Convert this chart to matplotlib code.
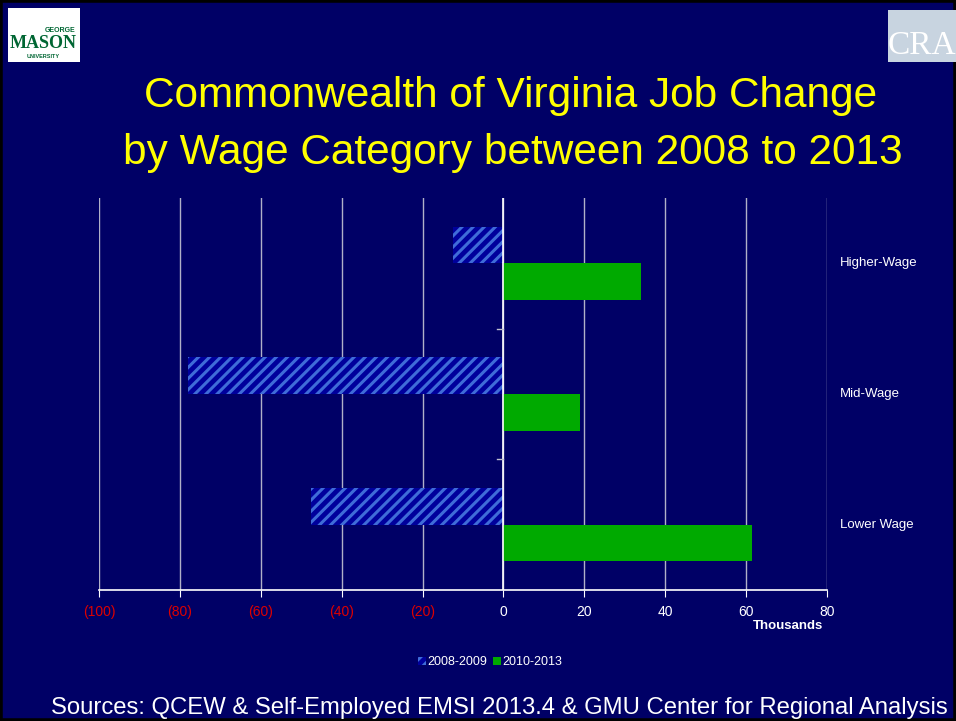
import matplotlib.pyplot as plt
from matplotlib.patches import Patch, Rectangle

# data (thousands of jobs)
categories = ['Lower Wage', 'Mid-Wage', 'Higher-Wage']
change_2008_2009 = [-47.5, -78.0, -12.5]
change_2010_2013 = [61.5, 19.0, 34.0]
xticks = [-100, -80, -60, -40, -20, 0, 20, 40, 60, 80]

bg = '#000066'
plt.rcParams['font.family'] = ['Liberation Sans', 'DejaVu Sans']
plt.rcParams['hatch.linewidth'] = 2.2

fig = plt.figure(figsize=(9.56, 7.21), dpi=100, facecolor=bg)

# thin black slide frame
fig.patches.append(Rectangle((0, 0), 1, 1, transform=fig.transFigure,
                             fill=False, edgecolor='black', linewidth=4))

ax = fig.add_axes([99 / 956, 131 / 721, 728 / 956, 392 / 721])
ax.set_facecolor(bg)

y = list(range(len(categories)))
h = 0.28
ax.barh([v + h / 2 for v in y], change_2008_2009, height=h, color='#00009c',
        edgecolor='#3f6cd8', linewidth=0, hatch='///', label='2008-2009')
ax.barh([v - h / 2 for v in y], change_2010_2013, height=h, color='#00aa00',
        linewidth=0, label='2010-2013')

ax.set_xlim(-100, 80)
ax.set_ylim(-0.5, 2.5)
ax.set_xticks(xticks)
labels = [f'({abs(t)})' if t < 0 else str(t) for t in xticks]
ax.tick_params(axis='x', colors='white', length=5, pad=6)
ax.set_xticklabels(labels, fontsize=10)
for lab, t in zip(ax.get_xticklabels(), xticks):
    lab.set_color('#dd0000' if t < 0 else 'white')
ax.grid(axis='x', color='#b0b0c8', linewidth=1)
ax.set_axisbelow(True)

for s in ['top', 'right', 'left']:
    ax.spines[s].set_visible(False)
ax.spines['bottom'].set_color('white')
ax.spines['bottom'].set_linewidth(1.2)

# category axis at zero
ax.axvline(0, color='white', linewidth=1.2, zorder=3)
ax.set_yticks([])
for b in [0.5, 1.5]:
    ax.plot([-1.5, 0], [b, b], color='#c0c0d0', linewidth=1, zorder=3)
for v, name in zip(y, categories):
    ax.text(1.018, (v + 0.5) / 3, name, transform=ax.transAxes, color='white',
            fontsize=9.5, va='center', ha='left')

ax.text(0.947, -0.092, 'Thousands', transform=ax.transAxes, color='white',
        fontsize=9.5, fontweight='bold', ha='center', va='center')

fig.legend(handles=[
    Patch(facecolor='#00009c', edgecolor='#3f6cd8', linewidth=0, hatch='///', label='2008-2009'),
    Patch(facecolor='#00aa00', label='2010-2013')],
    loc='center', bbox_to_anchor=(490 / 956, 1 - 662 / 721), ncol=2, frameon=False,
    fontsize=9, labelcolor='white', handlelength=0.6, handleheight=0.6,
    handletextpad=0.1, columnspacing=0.5)

fig.text(511 / 956, 1 - 96 / 721, 'Commonwealth of Virginia Job Change',
         color='#ffff00', fontsize=30.5, ha='center', va='center')
fig.text(513 / 956, 1 - 153 / 721, 'by Wage Category between 2008 to 2013',
         color='#ffff00', fontsize=30.5, ha='center', va='center')
fig.text(499 / 956, 1 - 708 / 721,
         'Sources: QCEW & Self-Employed EMSI 2013.4 & GMU Center for Regional Analysis',
         color='white', fontsize=17.2, ha='center', va='center')

# logos (approximate)
fig.patches.append(Rectangle((8 / 956, 1 - 62 / 721), 72 / 956, 54 / 721,
                             transform=fig.transFigure, facecolor='white', edgecolor='none'))
fig.text(60 / 956, 1 - 30 / 721, 'GEORGE', color='#006633', fontsize=5,
         fontweight='bold', ha='center', va='center')
fig.text(43 / 956, 1 - 43 / 721, 'MASON', color='#006633', fontsize=13,
         fontweight='bold', ha='center', va='center', family='Liberation Serif')
fig.text(43 / 956, 1 - 56 / 721, 'UNIVERSITY', color='#006633', fontsize=4,
         fontweight='bold', ha='center', va='center')
fig.patches.append(Rectangle((888 / 956, 1 - 62 / 721), 68 / 956, 52 / 721,
                             transform=fig.transFigure, facecolor='#c8d4e0', edgecolor='none'))
fig.text(888 / 956, 1 - 46 / 721, 'CRA', color='white', fontsize=24,
         family='Liberation Serif', ha='left', va='center')

fig.savefig('out.png', dpi=100, facecolor=bg)
